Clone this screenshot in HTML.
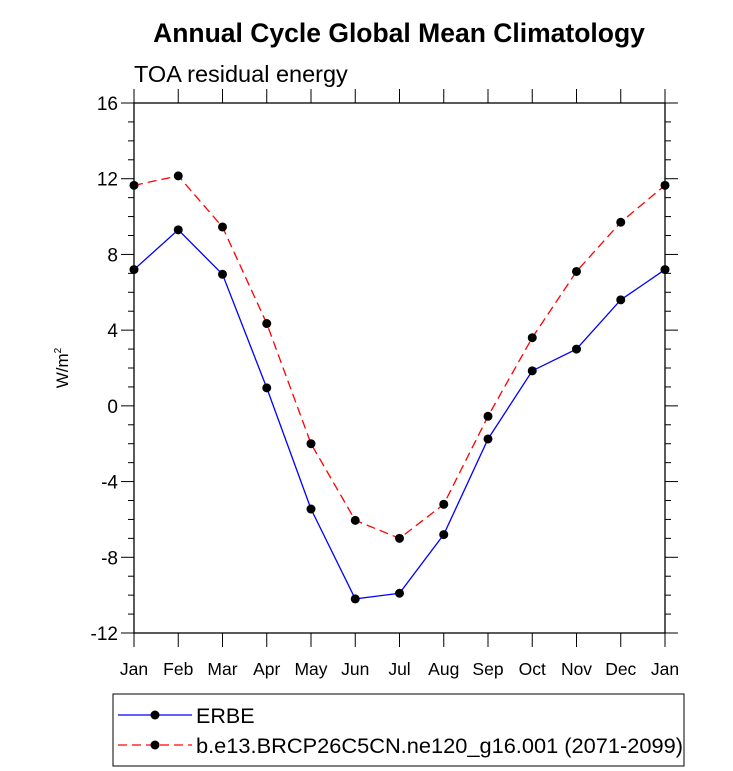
<!DOCTYPE html>
<html><head><meta charset="utf-8"><style>body{margin:0;background:#fff}svg{display:block;font-family:"Liberation Sans",sans-serif}</style></head>
<body>
<svg id="c" width="733" height="771">
<text x="399" y="42" text-anchor="middle" font-size="26.5" font-weight="bold">Annual Cycle Global Mean Climatology</text>
<text x="134" y="82" font-size="23.5">TOA residual energy</text>
<text transform="translate(68,368) rotate(-90)" text-anchor="middle" font-size="17">W/m<tspan font-size="10" dy="-7">2</tspan></text>
<g id="g"></g>
<rect x="113" y="694" width="571" height="72" fill="none" stroke="#000" stroke-width="1"/>
<g>
<line x1="118" y1="715" x2="192" y2="715" stroke="#0000ff" stroke-width="1.3"/><circle cx="155" cy="715" r="4.5"/>
<text x="196" y="723" font-size="21.5">ERBE</text></g>
<g>
<line x1="118" y1="745" x2="192" y2="745" stroke="#ff0000" stroke-width="1.3" stroke-dasharray="9,5"/><circle cx="155" cy="745" r="4.5"/>
<text x="196" y="753" font-size="21.5" textLength="487" lengthAdjust="spacingAndGlyphs">b.e13.BRCP26C5CN.ne120_g16.001 (2071-2099)</text></g>
</svg>
<script>
const months=["Jan","Feb","Mar","Apr","May","Jun","Jul","Aug","Sep","Oct","Nov","Dec","Jan"];
const erbe=[7.2,9.3,6.95,0.95,-5.45,-10.2,-9.9,-6.8,-1.75,1.85,3.0,5.6,7.2];
const model=[11.65,12.15,9.45,4.35,-2.0,-6.05,-7.0,-5.2,-0.55,3.6,7.1,9.7,11.65];
const yTicks=[16,12,8,4,0,-4,-8,-12];
const L=134,R=665,T=103,B=633,ymin=-12,ymax=16;
const xs=i=>L+i*(R-L)/(months.length-1);
const ys=v=>T+(ymax-v)*(B-T)/(ymax-ymin);
const NS="http://www.w3.org/2000/svg",g=document.getElementById('g');
function mk(t,a){const e=document.createElementNS(NS,t);for(const k in a)e.setAttribute(k,a[k]);g.appendChild(e);return e;}
let f=mk('rect',{x:L,y:T,width:R-L,height:B-T,fill:'none',stroke:'#000','stroke-width':1.3});


for(let v=ymin;v<=ymax;v++){const maj=v%4===0,len=maj?13:6,y=ys(v);
 mk('line',{x1:L-len,y1:y,x2:L,y2:y,stroke:'#000'});mk('line',{x1:R,y1:y,x2:R+len,y2:y,stroke:'#000'});}
yTicks.forEach(v=>{const t=mk('text',{x:L-16,y:ys(v)+7,'text-anchor':'end','font-size':19});t.textContent=v;
 
 });
months.forEach((m,i)=>{const x=xs(i);mk('line',{x1:x,y1:B,x2:x,y2:B+14,stroke:'#000'});mk('line',{x1:x,y1:T-14,x2:x,y2:T,stroke:'#000'});
 const t=mk('text',{x:x,y:B+42,'text-anchor':'middle','font-size':17.5});t.textContent=m;
 
 });
function series(d,col,dash,name){const p=mk('polyline',{points:d.map((v,i)=>xs(i)+','+ys(v)).join(' '),fill:'none',stroke:col,'stroke-width':1.3,'stroke-dasharray':dash});
 
 
 d.forEach((v,i)=>{const c=mk('circle',{cx:xs(i),cy:ys(v),r:4.5,fill:'#000'});
  
  });}
series(erbe,'#0000ff','none','erbe');
series(model,'#ff0000','9,5','model');
</script>
</body></html>
